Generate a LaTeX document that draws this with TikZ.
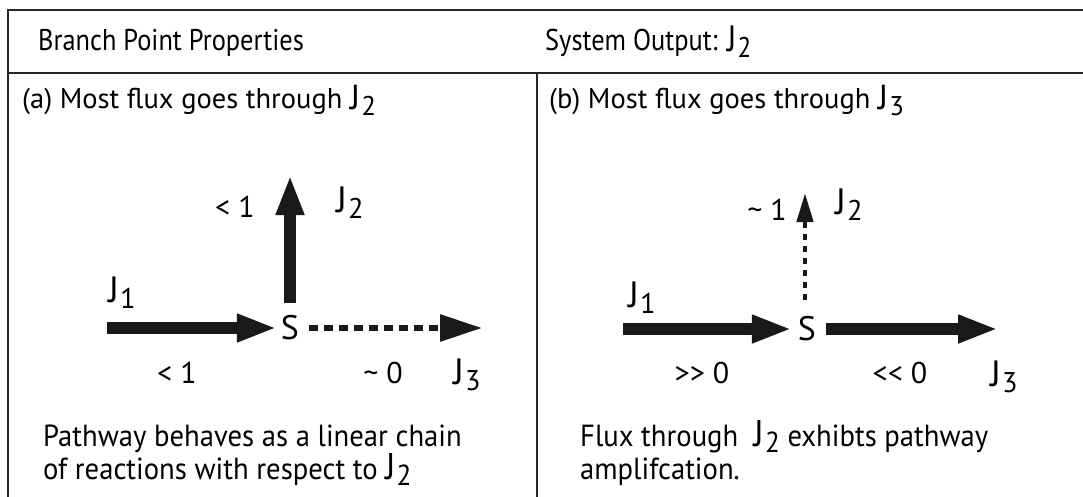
\documentclass[tikz,border=0pt]{standalone}
\usepackage{fontspec}
\usepackage{graphicx}
\setmainfont{PT Sans}
\newfontfamily\condfont[FakeStretch=0.88]{PT Sans}
\newfontfamily\bodyfont[FakeStretch=0.94]{PT Sans}
\usetikzlibrary{arrows.meta}
\newcommand\Jn[1]{\raisebox{-0.05ex}{\scalebox{1.22}{J}}\kern0.04em\raisebox{-0.45ex}{\scalebox{0.95}{#1}}}
\begin{document}
\begin{tikzpicture}[x=1pt,y=-1pt,
  frame/.style={line width=2pt, draw=black!85},
  hdr/.style={inner sep=0pt, anchor=base west, font=\condfont\fontsize{30}{34}\selectfont},
  ttl/.style={inner sep=0pt, anchor=base west, font=\fontsize{28.5}{32}\selectfont},
  body/.style={inner sep=0pt, anchor=base west, font=\bodyfont\fontsize{30.5}{34}\selectfont},
  lbl/.style={inner sep=0pt, font=\fontsize{30}{34}\selectfont},
  snode/.style={inner sep=0pt, font=\fontsize{34}{38}\selectfont},
  fat/.style={line width=12pt, draw=black!90, -{Triangle[length=40pt,width=26pt]}},
  fatdash/.style={line width=6pt, draw=black!90, dash pattern=on 9pt off 6pt, -{Triangle[length=42pt,width=26pt]}},
  thindot/.style={line width=4.5pt, draw=black!90, dash pattern=on 6pt off 6pt, -{Triangle[length=29pt,width=16pt]}}
]
\useasboundingbox (0,0) rectangle (1083,497);
% frame
\coordinate (tl) at (8,10);
\coordinate (tr) at (1083,10);
\coordinate (bl) at (8,497);
\coordinate (ml) at (8,73);
\coordinate (mr) at (1083,73);
\coordinate (dt) at (537,73);
\coordinate (db) at (537,497);
\draw[frame] (tr) -- (tl) -- (bl);
\draw[frame] (ml) -- (mr);
\draw[frame] (dt) -- (db);
% header
\node[hdr] (h1) at (38,51) {Branch Point Properties};
\node[hdr] (h2) at (545,51) {System Output: \Jn{2}};
% titles
\node[ttl] (ta) at (22,109) {(a) Most flux goes through \Jn{2}};
\node[ttl] (tb) at (549,109) {(b) Most flux goes through \Jn{3}};
% panel a
\node[snode] (Sa) at (290,328) {S};
\coordinate (a1) at (107,328);
\coordinate (a3) at (482,328);
\coordinate (a2) at (290,175);
\draw[fat, shorten >=4pt] (a1) -- (Sa.west);
\draw[fatdash, shorten <=10pt] (Sa.east) -- (a3);
\draw[fat, shorten <=12pt] (Sa.north) -- (a2);
\node[lbl] (aJ1) at (122,293) {\Jn{1}};
\node[lbl] (aJ2) at (350,203) {\Jn{2}};
\node[lbl] (aJ3) at (467,375) {\Jn{3}};
\node[lbl] (al1) at (235,207) {< 1};
\node[lbl] (al2) at (177,373) {< 1};
\node[lbl] (al3) at (383,373) {\textasciitilde\ 0};
% panel b
\node[snode] (Sb) at (807,329) {S};
\coordinate (b1) at (623,329);
\coordinate (b3) at (998,329);
\coordinate (b2) at (805,193);
\draw[fat, shorten >=6pt] (b1) -- (Sb.west);
\draw[fat, shorten <=10pt] (Sb.east) -- (b3);
\draw[thindot, shorten <=16pt] (Sb.north -| b2) -- (b2);
\node[lbl] (bJ1) at (642,298) {\Jn{1}};
\node[lbl] (bJ2) at (849,205) {\Jn{2}};
\node[lbl] (bJ3) at (1004,377) {\Jn{3}};
\node[lbl] (bl1) at (767,210) {\textasciitilde\ 1};
\node[lbl] (bl2) at (702,373) {>\kern0pt> 0};
\node[lbl] (bl3) at (900,373) {<\kern0pt< 0};
% bottom texts
\node[body] (ba1) at (43,446) {Pathway behaves as a linear chain};
\node[body] (ba2) at (43,479) {of reactions with respect to \Jn{2}};
\node[body] (bb1) at (580,446) {Flux through\ \ \Jn{2} exhibts pathway};
\node[body] (bb2) at (580,479) {amplifcation.};
\end{tikzpicture}
\end{document}
